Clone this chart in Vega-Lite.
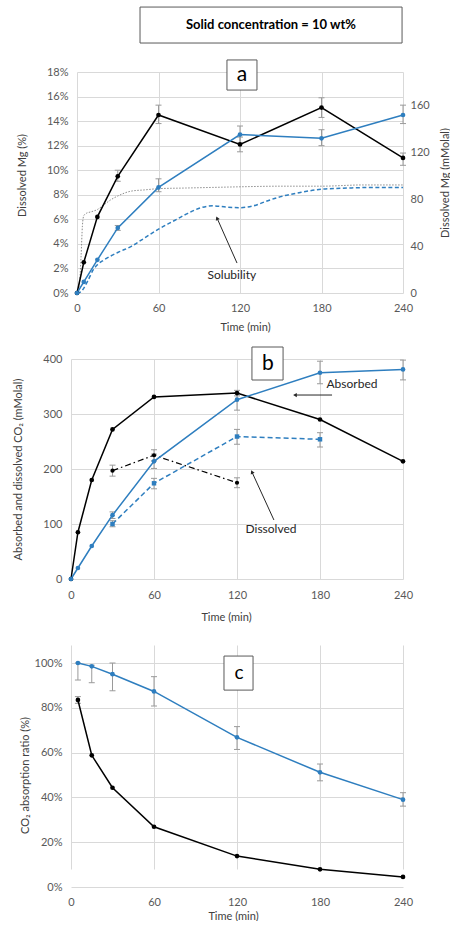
{
  "$schema": "https://vega.github.io/schema/vega-lite/v6.json",
  "background": "white",
  "padding": {"left": 12, "top": 6, "right": 0, "bottom": 0},
  "bounds": "flush",
  "spacing": 66,
  "config": {
    "font": "Lato",
    "view": {"stroke": null},
    "axis": {
      "labelFont": "Lato", "titleFont": "Lato", "labelFontSize": 11, "titleFontSize": 11,
      "labelColor": "#595959", "titleColor": "#404040", "titleFontWeight": "normal",
      "grid": true, "gridColor": "#d9d9d9", "gridWidth": 1, "ticks": false, "tickSize": 0,
      "domain": false, "labelFlush": false, "labelOverlap": false
    },
    "text": {"font": "Lato"}
  },
  "datasets": {
    "a_pts": [
      {"t": 0, "v": 0, "s": "k"}, {"t": 5, "v": 0.025, "s": "k"}, {"t": 15, "v": 0.062, "s": "k"}, {"t": 30, "v": 0.095, "s": "k"},
      {"t": 60, "v": 0.145, "s": "k"}, {"t": 120, "v": 0.121, "s": "k"}, {"t": 180, "v": 0.151, "s": "k"}, {"t": 240, "v": 0.110, "s": "k"},
      {"t": 0, "v": 0, "s": "b"}, {"t": 5, "v": 0.009, "s": "b"}, {"t": 15, "v": 0.027, "s": "b"}, {"t": 30, "v": 0.053, "s": "b"},
      {"t": 60, "v": 0.086, "s": "b"}, {"t": 120, "v": 0.129, "s": "b"}, {"t": 180, "v": 0.126, "s": "b"}, {"t": 240, "v": 0.145, "s": "b"}
    ],
    "a_err": [
      {"t": 30, "v": 0.091, "v2": 0.100}, {"t": 60, "v": 0.138, "v2": 0.153}, {"t": 120, "v": 0.115, "v2": 0.127},
      {"t": 180, "v": 0.143, "v2": 0.159}, {"t": 240, "v": 0.104, "v2": 0.114},
      {"t": 30, "v": 0.051, "v2": 0.055}, {"t": 60, "v": 0.0825, "v2": 0.093}, {"t": 120, "v": 0.122, "v2": 0.136},
      {"t": 180, "v": 0.120, "v2": 0.133}, {"t": 240, "v": 0.138, "v2": 0.153}
    ],
    "a_sol_gray": [
      {"t": 0, "v": 0}, {"t": 2, "v": 0.01}, {"t": 3, "v": 0.03}, {"t": 4, "v": 0.055}, {"t": 5, "v": 0.063},
      {"t": 7, "v": 0.065}, {"t": 10, "v": 0.066}, {"t": 15, "v": 0.068}, {"t": 20, "v": 0.072}, {"t": 25, "v": 0.076},
      {"t": 30, "v": 0.079}, {"t": 40, "v": 0.083}, {"t": 50, "v": 0.084}, {"t": 60, "v": 0.085}, {"t": 80, "v": 0.0855},
      {"t": 100, "v": 0.086}, {"t": 120, "v": 0.0865}, {"t": 150, "v": 0.087}, {"t": 180, "v": 0.087}, {"t": 210, "v": 0.088}, {"t": 240, "v": 0.088}
    ],
    "a_sol_blue": [
      {"t": 0, "v": 0}, {"t": 3, "v": 0.001}, {"t": 5, "v": 0.004}, {"t": 8, "v": 0.01}, {"t": 12, "v": 0.019},
      {"t": 15, "v": 0.023}, {"t": 20, "v": 0.027}, {"t": 30, "v": 0.033}, {"t": 40, "v": 0.038}, {"t": 50, "v": 0.045},
      {"t": 60, "v": 0.052}, {"t": 70, "v": 0.058}, {"t": 80, "v": 0.064}, {"t": 90, "v": 0.069}, {"t": 100, "v": 0.071},
      {"t": 110, "v": 0.0700}, {"t": 120, "v": 0.0695}, {"t": 130, "v": 0.071}, {"t": 140, "v": 0.075}, {"t": 150, "v": 0.0785},
      {"t": 165, "v": 0.082}, {"t": 180, "v": 0.0845}, {"t": 200, "v": 0.0855}, {"t": 220, "v": 0.086}, {"t": 240, "v": 0.086}
    ],
    "b_abs": [
      {"t": 0, "v": 0, "s": "k"}, {"t": 5, "v": 85, "s": "k"}, {"t": 15, "v": 180, "s": "k"}, {"t": 30, "v": 272, "s": "k"},
      {"t": 60, "v": 331, "s": "k"}, {"t": 120, "v": 338, "s": "k"}, {"t": 180, "v": 290, "s": "k"}, {"t": 240, "v": 214, "s": "k"},
      {"t": 0, "v": 0, "s": "b"}, {"t": 5, "v": 20, "s": "b"}, {"t": 15, "v": 60, "s": "b"}, {"t": 30, "v": 116, "s": "b"},
      {"t": 60, "v": 214, "s": "b"}, {"t": 120, "v": 326, "s": "b"}, {"t": 180, "v": 375, "s": "b"}, {"t": 240, "v": 381, "s": "b"}
    ],
    "b_dis_k": [{"t": 30, "v": 197}, {"t": 60, "v": 225}, {"t": 120, "v": 175}],
    "b_dis_b": [{"t": 30, "v": 100}, {"t": 60, "v": 174}, {"t": 120, "v": 259}, {"t": 180, "v": 254}],
    "b_err": [
      {"t": 120, "v": 333, "v2": 343},
      {"t": 30, "v": 110, "v2": 122}, {"t": 60, "v": 201, "v2": 227}, {"t": 120, "v": 307, "v2": 338}, {"t": 180, "v": 355, "v2": 396}, {"t": 240, "v": 362, "v2": 398},
      {"t": 30, "v": 95, "v2": 106}, {"t": 60, "v": 164, "v2": 183}, {"t": 120, "v": 245, "v2": 272}, {"t": 180, "v": 240, "v2": 266},
      {"t": 30, "v": 187, "v2": 207}, {"t": 60, "v": 215, "v2": 235}, {"t": 120, "v": 166, "v2": 184}
    ],
    "c_pts": [
      {"t": 5, "v": 1.0, "s": "b"}, {"t": 15, "v": 0.985, "s": "b"}, {"t": 30, "v": 0.95, "s": "b"}, {"t": 60, "v": 0.873, "s": "b"},
      {"t": 120, "v": 0.668, "s": "b"}, {"t": 180, "v": 0.512, "s": "b"}, {"t": 240, "v": 0.39, "s": "b"},
      {"t": 5, "v": 0.835, "s": "k"}, {"t": 15, "v": 0.588, "s": "k"}, {"t": 30, "v": 0.443, "s": "k"}, {"t": 60, "v": 0.269, "s": "k"},
      {"t": 120, "v": 0.138, "s": "k"}, {"t": 180, "v": 0.079, "s": "k"}, {"t": 240, "v": 0.045, "s": "k"}
    ],
    "c_err": [
      {"t": 5, "v": 0.924, "v2": 1.0}, {"t": 15, "v": 0.912, "v2": 0.99}, {"t": 30, "v": 0.876, "v2": 1.0}, {"t": 60, "v": 0.808, "v2": 0.939},
      {"t": 120, "v": 0.614, "v2": 0.716}, {"t": 180, "v": 0.474, "v2": 0.549}, {"t": 240, "v": 0.361, "v2": 0.421},
      {"t": 5, "v": 0.82, "v2": 0.85}
    ]
  },
  "vconcat": [
    {
      "width": 332,
      "height": 221,
      "resolve": {"scale": {"y": "independent"}},
      "layer": [
        {
          "encoding": {
            "x": {"field": "t", "type": "quantitative",
              "scale": {"domain": [0, 240], "range": [6, 332], "nice": false, "zero": false},
              "axis": {"values": [0, 60, 120, 180, 240], "labelPadding": 15, "labelBaseline": "middle",
                "title": "Time (min)", "titleX": 174, "titleY": 34, "titleBaseline": "middle"}},
            "y": {"field": "v", "type": "quantitative",
              "scale": {"domain": [0, 0.18], "nice": false},
              "axis": {"values": [0, 0.02, 0.04, 0.06, 0.08, 0.1, 0.12, 0.14, 0.16, 0.18], "format": ".0%",
                "offset": -6, "labelPadding": 9, "title": "Dissolved Mg (%)", "titleX": -55, "titleY": 103,
                "titleBaseline": "middle", "titleAngle": 270}}
          },
          "layer": [
            {
              "data": {"values": [{"t": 46.4, "t2": 239.3, "v": 0.2036, "v2": 0.2329}, {"t": 110.4, "t2": 132.5, "v": 0.1653, "v2": 0.1898}]},
              "mark": {"type": "rect", "fill": "white", "stroke": "#595959", "strokeWidth": 1},
              "encoding": {"x2": {"field": "t2"}, "y2": {"field": "v2"}}
            },
            {
              "data": {"values": [{"t": 142.8, "v": 0.2183, "label": "Solid concentration = 10 wt%"}]},
              "mark": {"type": "text", "fontSize": 13, "fontWeight": "bold", "color": "#000000", "baseline": "middle", "align": "center"},
              "encoding": {"text": {"field": "label"}}
            },
            {
              "data": {"values": [{"t": 121.5, "v": 0.1776, "label": "a"}]},
              "mark": {"type": "text", "fontSize": 21, "color": "#000000", "baseline": "middle", "align": "center"},
              "encoding": {"text": {"field": "label"}}
            },
            {
              "data": {"name": "a_sol_gray"},
              "mark": {"type": "line", "color": "#8c8c8c", "strokeWidth": 1, "strokeDash": [1.5, 1.5], "interpolate": "monotone"}
            },
            {
              "data": {"name": "a_sol_blue"},
              "mark": {"type": "line", "color": "#2E7EBF", "strokeWidth": 1.5, "strokeDash": [4, 2.5], "interpolate": "monotone"}
            },
            {
              "data": {"name": "a_err"},
              "mark": {"type": "rule", "color": "#9a9a9a", "strokeWidth": 1},
              "encoding": {"y2": {"field": "v2"}}
            },
            {
              "data": {"name": "a_err"},
              "mark": {"type": "rule", "color": "#9a9a9a", "strokeWidth": 1, "xOffset": -3, "x2Offset": 3},
              "encoding": {"x2": {"field": "t"}}
            },
            {
              "data": {"name": "a_err"},
              "mark": {"type": "rule", "color": "#9a9a9a", "strokeWidth": 1, "xOffset": -3, "x2Offset": 3},
              "encoding": {"x2": {"field": "t"}, "y": {"field": "v2", "type": "quantitative"}}
            },
            {
              "data": {"name": "a_pts"},
              "mark": {"type": "line", "strokeWidth": 1.5, "point": {"filled": true, "size": 22}},
              "encoding": {"color": {"field": "s", "type": "nominal", "scale": {"domain": ["k", "b"], "range": ["#000000", "#2E7EBF"]}, "legend": null}}
            },
            {
              "data": {"values": [{"t": 114, "v": 0.0147, "label": "Solubility"}]},
              "mark": {"type": "text", "fontSize": 12, "color": "#262626", "baseline": "middle", "align": "center"},
              "encoding": {"text": {"field": "label"}}
            },
            {
              "data": {"values": [{"t": 117.8, "v": 0.0244, "t2": 103.1, "v2": 0.061}]},
              "mark": {"type": "rule", "color": "#262626", "strokeWidth": 1},
              "encoding": {"x2": {"field": "t2"}, "y2": {"field": "v2"}}
            },
            {
              "data": {"values": [{"t": 103.1, "v": 0.061}]},
              "mark": {"type": "point", "shape": "triangle-up", "filled": true, "size": 18, "color": "#262626", "angle": 336, "opacity": 1}
            }
          ]
        },
        {
          "data": {"values": [{"t": 0, "m": 0}]},
          "mark": {"type": "point", "opacity": 0},
          "encoding": {
            "x": {"field": "t", "type": "quantitative"},
            "y": {"field": "m", "type": "quantitative", "scale": {"domain": [0, 188.8], "nice": false},
              "axis": {"orient": "right", "values": [0, 40, 80, 120, 160], "grid": false, "labelPadding": 7,
                "title": "Dissolved Mg (mMolal)", "titleX": 42, "titleBaseline": "middle", "titleAngle": 270}}
          }
        }
      ]
    },
    {
      "width": 332,
      "height": 220,
      "encoding": {
        "x": {"field": "t", "type": "quantitative",
          "scale": {"domain": [0, 240], "nice": false, "zero": false},
          "axis": {"values": [0, 60, 120, 180, 240], "labelPadding": 16, "labelBaseline": "middle",
            "title": "Time (min)", "titleX": 155, "titleY": 38, "titleBaseline": "middle"}},
        "y": {"field": "v", "type": "quantitative",
          "scale": {"domain": [0, 400], "nice": false},
          "axis": {"values": [0, 100, 200, 300, 400], "labelPadding": 9,
            "title": "Absorbed and dissolved CO₂ (mMolal)", "titleX": -53, "titleBaseline": "middle", "titleAngle": 270}}
      },
      "layer": [
        {
          "data": {"values": [{"t": 130.8, "t2": 153.3, "v": 361.8, "v2": 421.8}]},
          "mark": {"type": "rect", "fill": "white", "stroke": "#595959", "strokeWidth": 1},
          "encoding": {"x2": {"field": "t2"}, "y2": {"field": "v2"}}
        },
        {
          "data": {"values": [{"t": 142.4, "v": 390.9, "label": "b"}]},
          "mark": {"type": "text", "fontSize": 21, "color": "#000000", "baseline": "middle", "align": "center"},
          "encoding": {"text": {"field": "label"}}
        },
        {
          "data": {"name": "b_err"},
          "mark": {"type": "rule", "color": "#9a9a9a", "strokeWidth": 1},
          "encoding": {"y2": {"field": "v2"}}
        },
        {
          "data": {"name": "b_err"},
          "mark": {"type": "rule", "color": "#9a9a9a", "strokeWidth": 1, "xOffset": -3, "x2Offset": 3},
          "encoding": {"x2": {"field": "t"}}
        },
        {
          "data": {"name": "b_err"},
          "mark": {"type": "rule", "color": "#9a9a9a", "strokeWidth": 1, "xOffset": -3, "x2Offset": 3},
          "encoding": {"x2": {"field": "t"}, "y": {"field": "v2", "type": "quantitative"}}
        },
        {
          "data": {"name": "b_dis_b"},
          "mark": {"type": "line", "color": "#2E7EBF", "strokeWidth": 1.5, "strokeDash": [5, 3],
            "point": {"filled": true, "size": 20, "shape": "square", "color": "#2E7EBF"}}
        },
        {
          "data": {"name": "b_dis_k"},
          "mark": {"type": "line", "color": "#000000", "strokeWidth": 1.2, "strokeDash": [6, 3, 1.5, 3],
            "point": {"filled": true, "size": 18, "color": "#000000"}}
        },
        {
          "data": {"name": "b_abs"},
          "mark": {"type": "line", "strokeWidth": 1.5, "point": {"filled": true, "size": 22}},
          "encoding": {"color": {"field": "s", "type": "nominal", "scale": {"domain": ["k", "b"], "range": ["#000000", "#2E7EBF"]}, "legend": null}}
        },
        {
          "data": {"values": [{"t": 203.1, "v": 354.5, "label": "Absorbed"}, {"t": 144.6, "v": 90.9, "label": "Dissolved"}]},
          "mark": {"type": "text", "fontSize": 12, "color": "#262626", "baseline": "middle", "align": "center"},
          "encoding": {"text": {"field": "label"}}
        },
        {
          "data": {"values": [{"t": 188.7, "v": 334.5, "t2": 161.9, "v2": 334.5}, {"t": 146.7, "v": 107.3, "t2": 130.8, "v2": 194.5}]},
          "mark": {"type": "rule", "color": "#262626", "strokeWidth": 1},
          "encoding": {"x2": {"field": "t2"}, "y2": {"field": "v2"}}
        },
        {
          "data": {"values": [{"t": 161.9, "v": 334.5, "a": 270}, {"t": 130.8, "v": 194.5, "a": 335}]},
          "mark": {"type": "point", "shape": "triangle-up", "filled": true, "size": 18, "color": "#262626", "opacity": 1},
          "encoding": {"angle": {"field": "a", "type": "quantitative", "scale": null}}
        }
      ]
    },
    {
      "width": 332,
      "height": 242,
      "encoding": {
        "x": {"field": "t", "type": "quantitative",
          "scale": {"domain": [0, 240], "nice": false, "zero": false},
          "axis": {"values": [0, 60, 120, 180, 240], "labelPadding": 15, "labelBaseline": "middle",
            "title": "Time (min)", "titleX": 162, "titleY": 29, "titleBaseline": "middle"}},
        "y": {"field": "v", "type": "quantitative",
          "scale": {"domain": [0, 1], "range": [242, 18], "nice": false},
          "axis": {"values": [0, 0.2, 0.4, 0.6, 0.8, 1], "format": ".0%", "labelPadding": 9,
            "title": "CO₂ absorption ratio (%)", "titleX": -46, "titleY": 130, "titleBaseline": "middle", "titleAngle": 270}}
      },
      "layer": [
        {
          "data": {"values": [{"t": 110.6, "t2": 131.6, "v": 0.879, "v2": 1.031}]},
          "mark": {"type": "rect", "fill": "white", "stroke": "#595959", "strokeWidth": 1},
          "encoding": {"x2": {"field": "t2"}, "y2": {"field": "v2"}}
        },
        {
          "data": {"values": [{"t": 121.4, "v": 0.955, "label": "c"}]},
          "mark": {"type": "text", "fontSize": 19, "color": "#000000", "baseline": "middle", "align": "center"},
          "encoding": {"text": {"field": "label"}}
        },
        {
          "data": {"name": "c_err"},
          "mark": {"type": "rule", "color": "#9a9a9a", "strokeWidth": 1},
          "encoding": {"y2": {"field": "v2"}}
        },
        {
          "data": {"name": "c_err"},
          "mark": {"type": "rule", "color": "#9a9a9a", "strokeWidth": 1, "xOffset": -3, "x2Offset": 3},
          "encoding": {"x2": {"field": "t"}}
        },
        {
          "data": {"name": "c_err"},
          "mark": {"type": "rule", "color": "#9a9a9a", "strokeWidth": 1, "xOffset": -3, "x2Offset": 3},
          "encoding": {"x2": {"field": "t"}, "y": {"field": "v2", "type": "quantitative"}}
        },
        {
          "data": {"name": "c_pts"},
          "mark": {"type": "line", "strokeWidth": 1.5, "point": {"filled": true, "size": 22}},
          "encoding": {"color": {"field": "s", "type": "nominal", "scale": {"domain": ["k", "b"], "range": ["#000000", "#2E7EBF"]}, "legend": null}}
        }
      ]
    }
  ]
}
